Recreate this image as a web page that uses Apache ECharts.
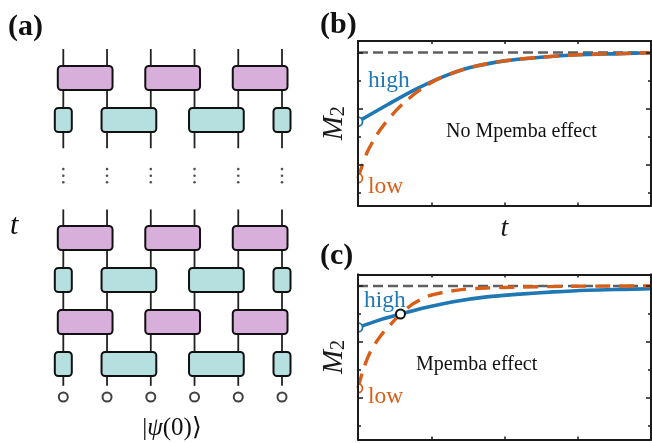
<!DOCTYPE html>
<html><head><meta charset="utf-8">
<style>html,body{margin:0;padding:0;background:#fff}#c{width:652px;height:443px}</style>
<script src="https://cdn.jsdelivr.net/npm/echarts@6/dist/echarts.min.js"></script>
</head><body><div id="c"></div>
<script>
// Panel (a): circuit, in wire / row units
const wires = [1, 2, 3, 4, 5, 6];
const purpleGates = [[1,2],[3,4],[5,6]];
const tealGates = [[1,1],[2,3],[4,5],[6,6]];
const purpleRows = [6.81, 3, 1];
const tealRows = [5.81, 2, 0];
const wireSpans = [[7.5, 5.136], [3.68, -0.52]];
const dotRows = [4.64, 4.483, 4.326];
const stateRow = -0.786;
// Panel (b)
const bHighT = [0, .414, .778, 1.14, 1.53, 2.0, 2.49, 3.0, 3.58, 4.0];
const bHighM = [.753, .815, .867, .911, .946, .970, .983, .992, .996, .999];
const bLowT = [0, .119, .255, .369, .528, .642, .892, 1.14, 1.53, 2.0, 2.49, 3.0, 3.58, 4.0];
const bLowM = [.551, .640, .705, .747, .795, .824, .875, .911, .946, .970, .983, .992, .996, .999];
// Panel (c)
const cHighT = [0, .30, .58, .94, 1.30, 1.76, 2.21, 2.67, 3.13, 3.58, 4.0];
const cHighM = [.852, .879, .900, .924, .944, .961, .971, .979, .985, .988, .990];
const cLowT = [0, .07, .16, .30, .46, .58, .75, .94, 1.16, 1.44, 1.76, 2.21, 2.9, 4.0];
const cLowM = [.635, .700, .760, .819, .867, .900, .936, .962, .977, .988, .993, .996, .999, 1.0];
const crossing = [.58, .900];
const limitM = 1.0;
const xTicks = [1, 2, 3];
const yMajor = [.6, .8, 1.0];
const yMinor = [.5, .7, .9];

const BLUE = '#1f77b4', ORANGE = '#d95f18', INK = '#1a1a1a', SERIF = '"Liberation Serif","Times New Roman",serif';
const zip = (a, b) => a.map((v, i) => [v, b[i]]);
const chart = echarts.init(document.getElementById('c'), null, {renderer: 'canvas'});

const frameLine = {show: true, onZero: false, lineStyle: {color: INK, width: 1.8}};
function xAx(gridIndex, position, name) {
  return {type: 'value', gridIndex, position, min: 0, max: 4, z: 10,
    axisLine: frameLine, splitLine: {show: false}, axisLabel: {show: false},
    axisTick: {show: true, inside: true, length: 3, customValues: xTicks, lineStyle: {color: INK, width: 1.5}},
    name: name || '', nameLocation: 'middle', nameGap: 9,
    nameTextStyle: {fontFamily: SERIF, fontStyle: 'italic', fontSize: 28, color: INK}};
}
function yAx(gridIndex, position, vals, len, min, named) {
  return {type: 'value', gridIndex, position, min, max: 1.041, z: 10,
    axisLine: frameLine, splitLine: {show: false}, axisLabel: {show: false},
    axisTick: {show: true, inside: true, length: len, customValues: vals, lineStyle: {color: INK, width: 1.5}},
    name: named ? '{m|M}{s|2}' : '', nameLocation: 'middle', nameGap: 9, nameRotate: 90,
    nameTextStyle: {rich: {
      m: {fontFamily: SERIF, fontStyle: 'italic', fontSize: 29, color: INK},
      s: {fontFamily: SERIF, fontSize: 20, color: INK, padding: [10, 0, 0, 0]}}}};
}
const grids = [
  {left: 63.3, top: 49, width: 218.7, height: 348},
  {left: 358, top: 41, width: 293, height: 164.5},
  {left: 358, top: 274.5, width: 293, height: 165}
];
const xAxes = [
  {type: 'value', gridIndex: 0, min: 1, max: 6, show: false},
  xAx(1, 'bottom', 't'), xAx(1, 'top'), xAx(2, 'bottom'), xAx(2, 'top')
];
const yAxes = [
  {type: 'value', gridIndex: 0, min: stateRow, max: 7.5, show: false},
  yAx(1, 'left', yMajor, 5, .4536, true), yAx(1, 'left', yMinor, 3, .4536),
  yAx(1, 'right', yMajor, 5, .4536), yAx(1, 'right', yMinor, 3, .4536),
  yAx(2, 'left', yMajor, 5, .452, true), yAx(2, 'left', yMinor, 3, .452),
  yAx(2, 'right', yMajor, 5, .452), yAx(2, 'right', yMinor, 3, .452)
];

function gateSeries(gates, rows, fill) {
  const data = [];
  rows.forEach(r => gates.forEach(g => data.push([g[0], g[1], r])));
  return {type: 'custom', xAxisIndex: 0, yAxisIndex: 0, z: 3, clip: false, silent: true, data,
    encode: {x: [0, 1], y: 2},
    renderItem(p, api) {
      const a = api.coord([api.value(0), api.value(2)]), b = api.coord([api.value(1), api.value(2)]);
      const pad = api.value(0) === api.value(1) ? 8.5 : 5.5;
      return {type: 'rect',
        shape: {x: a[0] - pad, y: a[1] - 12, width: b[0] - a[0] + 2 * pad, height: 24, r: 3.5},
        style: {fill, stroke: '#111', lineWidth: 2}};
    }};
}
const wireData = [];
wires.forEach(w => wireSpans.forEach(s => wireData.push([w, s[0], s[1]])));
const dotData = [];
wires.forEach(w => dotRows.forEach(r => dotData.push([w, r])));

function curve(grid, yi, data, color, dash, z, w) {
  return {type: 'line', xAxisIndex: grid, yAxisIndex: yi, data, smooth: .3, showSymbol: false, z, silent: true, clip: false,
    lineStyle: {color, width: w, type: dash, cap: 'butt', join: 'round'}};
}
function limit(xi, yi) {
  return {type: 'line', xAxisIndex: xi, yAxisIndex: yi, data: [[0, limitM], [4, limitM]], showSymbol: false, z: 2, silent: true,
    lineStyle: {color: '#5f5f5f', width: 2.4, type: [10, 5]}};
}
function startDot(xi, yi, v, color) {
  return {type: 'custom', xAxisIndex: xi, yAxisIndex: yi, z: 6, clip: false, silent: true, data: [[0, v]],
    renderItem(p, api) {
      const c = api.coord([api.value(0), api.value(1)]);
      return {type: 'sector', shape: {cx: c[0], cy: c[1], r0: 0, r: 4.5, startAngle: -Math.PI / 2, endAngle: Math.PI / 2},
        style: {fill: '#fff', stroke: color, lineWidth: 1.8}};
    }};
}

const series = [
  {type: 'custom', xAxisIndex: 0, yAxisIndex: 0, z: 1, clip: false, silent: true, data: wireData,
    encode: {x: 0, y: [1, 2]},
    renderItem(p, api) {
      const a = api.coord([api.value(0), api.value(1)]), b = api.coord([api.value(0), api.value(2)]);
      return {type: 'line', shape: {x1: a[0], y1: a[1], x2: b[0], y2: b[1]}, style: {stroke: '#222', lineWidth: 1.8}};
    }},
  gateSeries(purpleGates, purpleRows, '#d8aedb'),
  gateSeries(tealGates, tealRows, '#b6dfdf'),
  {type: 'scatter', xAxisIndex: 0, yAxisIndex: 0, data: dotData, symbolSize: 2.6, silent: true, clip: false,
    itemStyle: {color: '#222'}},
  {type: 'scatter', xAxisIndex: 0, yAxisIndex: 0, data: wires.map(w => [w, stateRow]), symbolSize: 9, silent: true, clip: false,
    itemStyle: {color: '#fff', borderColor: '#111', borderWidth: 2}},
  limit(1, 1),
  curve(1, 1, zip(bHighT, bHighM), BLUE, 'solid', 3, 3.6),
  curve(1, 1, zip(bLowT, bLowM), ORANGE, [15, 9], 4, 3.4),
  startDot(1, 1, bHighM[0], BLUE), startDot(1, 1, bLowM[0], ORANGE),
  limit(3, 5),
  curve(3, 5, zip(cHighT, cHighM), BLUE, 'solid', 3, 3.6),
  curve(3, 5, zip(cLowT, cLowM), ORANGE, [15, 9], 4, 3.4),
  startDot(3, 5, cHighM[0], BLUE), startDot(3, 5, cLowM[0], ORANGE),
  {type: 'scatter', xAxisIndex: 3, yAxisIndex: 5, data: [crossing], symbolSize: 9, z: 7, silent: true,
    itemStyle: {color: '#fff', borderColor: '#111', borderWidth: 2, opacity: 1}}
];

function txt(x, y, text, size, color, extra) {
  return {type: 'text', x, y, z: 20, silent: true,
    style: Object.assign({text, fontFamily: SERIF, fontSize: size, fill: color, textAlign: 'left', textVerticalAlign: 'middle'}, extra || {})};
}
const graphic = [
  txt(8, 27, '(a)', 30, '#111', {fontWeight: 'bold'}),
  txt(320, 25, '(b)', 30, '#111', {fontWeight: 'bold'}),
  txt(320, 256, '(c)', 30, '#111', {fontWeight: 'bold'}),
  txt(10, 226, 't', 30, '#111', {fontStyle: 'italic'}),
  {type: 'text', x: 172, y: 428, z: 20, silent: true, style: {
    text: '|{p|ψ}(0)⟩', fontFamily: SERIF, fontSize: 25, fill: '#111', textAlign: 'center', textVerticalAlign: 'middle',
    rich: {p: {fontFamily: SERIF, fontStyle: 'italic', fontSize: 25, fill: '#111'}}}},
  txt(368, 81, 'high', 23.5, BLUE),
  txt(368, 187, 'low', 23.5, ORANGE),
  txt(364, 301, 'high', 23.5, BLUE),
  txt(368, 397, 'low', 23.5, ORANGE),
  txt(446, 132, 'No Mpemba effect', 20, '#111'),
  txt(416, 365, 'Mpemba effect', 20, '#111')
];

chart.setOption({animation: false, backgroundColor: '#fff', grid: grids, xAxis: xAxes, yAxis: yAxes, series, graphic});
</script></body></html>
